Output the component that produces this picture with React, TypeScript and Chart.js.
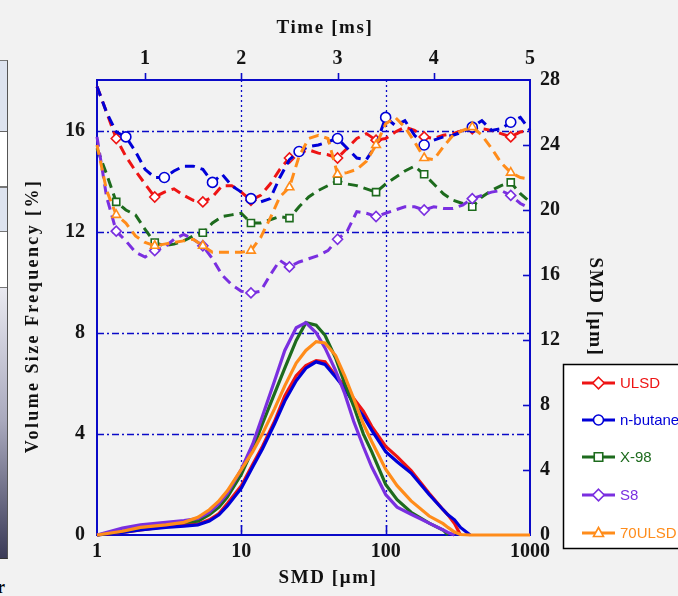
import React, { useEffect, useRef } from "react";
import { Chart, registerables } from "chart.js";

Chart.register(...registerables);

// ---------- data ----------
const sizeUm = [1, 1.5, 2, 3, 4, 5, 6, 7, 8, 10, 12, 14, 17, 20, 24, 28, 33, 38, 45, 52, 60, 70, 80, 100, 120, 150, 200, 250, 270, 300, 330, 385, 1000];

const ulsdVsf = [0, 0.1, 0.2, 0.33, 0.4, 0.43, 0.6, 0.85, 1.25, 1.95, 2.8, 3.5, 4.5, 5.5, 6.3, 6.7, 6.9, 6.85, 6.3, 5.9, 5.4, 4.9, 4.3, 3.5, 3.1, 2.55, 1.65, 1.0, 0.8, 0.45, 0, null, null];
const butaneVsf = [0, 0.1, 0.2, 0.3, 0.35, 0.4, 0.55, 0.8, 1.15, 1.85, 2.7, 3.4, 4.4, 5.3, 6.1, 6.6, 6.85, 6.75, 6.25, 5.8, 5.2, 4.7, 4.15, 3.3, 2.9, 2.45, 1.6, 1.0, 0.8, 0.6, 0.3, 0, null];
const x98Vsf = [0, 0.15, 0.3, 0.45, 0.5, 0.55, 0.8, 1.1, 1.5, 2.4, 3.4, 4.4, 5.6, 6.6, 7.7, 8.4, 8.3, 7.9, 7.0, 6.0, 5.1, 4.0, 3.3, 2.0, 1.4, 0.9, 0.47, 0.2, 0, null, null, null, null];
const s8Vsf = [0, 0.27, 0.4, 0.5, 0.57, 0.65, 0.9, 1.25, 1.65, 2.6, 3.6, 4.7, 6.1, 7.3, 8.2, 8.4, 8.0, 7.4, 6.5, 5.6, 4.5, 3.5, 2.7, 1.6, 1.1, 0.82, 0.47, 0.2, 0.1, 0, null, null, null];
const ulsd70Vsf = [0, 0.15, 0.3, 0.4, 0.5, 0.7, 1.0, 1.35, 1.75, 2.6, 3.3, 4.0, 5.0, 5.9, 6.8, 7.3, 7.65, 7.6, 7.1, 6.3, 5.4, 4.4, 3.7, 2.6, 1.95, 1.35, 0.75, 0.45, 0.3, 0.12, 0.02, 0, 0];

const timeMs = [0.5, 0.6, 0.7, 0.8, 0.9, 1.0, 1.1, 1.2, 1.3, 1.4, 1.5, 1.6, 1.7, 1.8, 1.9, 2.0, 2.1, 2.2, 2.3, 2.4, 2.5, 2.6, 2.7, 2.8, 2.9, 3.0, 3.1, 3.2, 3.3, 3.4, 3.5, 3.6, 3.7, 3.8, 3.9, 4.0, 4.1, 4.2, 4.3, 4.4, 4.5, 4.6, 4.7, 4.8, 4.9, 5.0];

const ulsdSmd = [27.6, 26.0, 24.4, 23.3, 22.4, 21.6, 20.8, 21.1, 21.3, 20.9, 20.6, 20.5, 20.8, 21.5, 21.5, 21.1, 20.6, 20.9, 21.6, 22.5, 23.2, 23.5, 23.7, 23.5, 23.4, 23.2, 23.8, 24.4, 24.7, 24.3, 24.4, 24.8, 25.1, 24.9, 24.5, 24.4, 24.6, 24.7, 24.9, 25.0, 25.0, 24.9, 24.7, 24.5, 24.8, 24.9];
const butaneSmd = [27.6, 26.0, 24.8, 24.5, 23.6, 22.5, 22.0, 22.0, 22.4, 22.7, 22.7, 22.5, 21.7, 22.2, 21.5, 21.1, 20.7, 20.5, 20.7, 22.0, 23.1, 23.6, 23.9, 24.0, 24.2, 24.4, 23.8, 23.2, 23.1, 24.0, 25.7, 25.2, 25.5, 24.6, 24.0, 24.3, 24.5, 24.6, 24.8, 25.1, 25.5, 24.9, 25.0, 25.4, 25.7, 24.9];
const x98Smd = [23.8, 22.2, 20.5, 20.0, 19.7, 18.8, 18.0, 17.8, 17.9, 18.1, 18.4, 18.6, 19.2, 19.6, 19.7, 19.8, 19.2, 19.2, 19.4, 19.6, 19.5, 20.2, 20.8, 21.2, 21.5, 21.8, 21.6, 21.5, 21.3, 21.1, 21.6, 22.0, 22.4, 22.7, 22.2, 21.6, 21.0, 20.6, 20.4, 20.2, 20.8, 21.2, 21.5, 21.7, 21.0, 20.5];
const s8Smd = [24.5, 20.8, 18.7, 18.1, 17.4, 17.1, 17.5, 17.7, 18.2, 18.5, 18.2, 17.8, 17.0, 16.0, 15.4, 15.0, 14.9, 15.0, 16.0, 16.9, 16.5, 16.8, 17.0, 17.2, 17.5, 18.2, 18.7, 19.9, 19.8, 19.6, 19.8, 20.0, 20.2, 20.2, 20.0, 20.2, 20.1, 20.1, 20.3, 20.7, 20.9, 21.1, 21.2, 20.9, 20.4, 20.1];
const ulsd70Smd = [24.0, 21.2, 19.7, 19.2, 18.4, 18.0, 17.8, 17.9, 18.0, 18.1, 18.2, 17.8, 17.4, 17.4, 17.4, 17.4, 17.5, 18.3, 19.5, 20.8, 21.4, 23.3, 24.4, 24.6, 24.4, 22.2, 22.3, 22.5, 23.0, 24.0, 25.3, 25.7, 25.1, 24.2, 23.2, 23.1, 23.9, 24.6, 24.9, 25.1, 24.6, 23.8, 22.9, 22.3, 22.0, 21.9];

const seriesNames = ["ULSD", "n-butane", "X-98", "S8", "70ULSD"];
const seriesColors = ["#ee1414", "#0000d8", "#1d6b1d", "#7a2fe0", "#ff8c1a"];
const markerStyles = ["rectRot", "circle", "rect", "rectRot", "triangle"];
const vsfSeries = [ulsdVsf, butaneVsf, x98Vsf, s8Vsf, ulsd70Vsf];
const smdSeries = [ulsdSmd, butaneSmd, x98Smd, s8Smd, ulsd70Smd];

const sizeTicks = [1, 10, 100, 1000];
const timeTicks = [1, 2, 3, 4, 5];
const vsfTicks = [0, 4, 8, 12, 16];
const smdTicks = [0, 4, 8, 12, 16, 20, 24, 28];
const markerIndexUlsd = [2, 6, 11, 16, 20, 25, 29, 34, 39, 43];
const markerIndexButane = [3, 7, 12, 16, 21, 25, 30, 34, 39, 43];
const markerIndexX98 = [2, 6, 11, 16, 20, 25, 29, 34, 39, 43];
const markerIndexS8 = [2, 6, 11, 16, 20, 25, 29, 34, 39, 43];
const markerIndex70 = [2, 6, 11, 16, 20, 25, 29, 34, 39, 43];
const markerIndexes = [markerIndexUlsd, markerIndexButane, markerIndexX98, markerIndexS8, markerIndex70];

// ---------- style ----------
const SERIF = "'Liberation Serif', 'Times New Roman', serif";
const tickFont = { family: SERIF, size: 20, weight: "bold" as const };
const AXIS_BLUE = "#0a0ac8";

function drawMarker(ctx: CanvasRenderingContext2D, style: string, x: number, y: number, r: number) {
  ctx.beginPath();
  if (style === "circle") {
    ctx.arc(x, y, r, 0, Math.PI * 2);
  } else if (style === "rect") {
    ctx.rect(x - r * 0.85, y - r * 0.85, r * 1.7, r * 1.7);
  } else if (style === "rectRot") {
    ctx.moveTo(x, y - r * 1.15);
    ctx.lineTo(x + r * 1.15, y);
    ctx.lineTo(x, y + r * 1.15);
    ctx.lineTo(x - r * 1.15, y);
    ctx.closePath();
  } else {
    ctx.moveTo(x, y - r * 1.1);
    ctx.lineTo(x + r, y + r * 0.7);
    ctx.lineTo(x - r, y + r * 0.7);
    ctx.closePath();
  }
  ctx.fill();
  ctx.stroke();
}

const decorPlugin = {
  id: "decor",
  beforeDatasetsDraw(chart: any) {
    const { ctx, chartArea: a, scales } = chart;
    ctx.save();
    ctx.strokeStyle = AXIS_BLUE;
    ctx.lineWidth = 1.3;
    ctx.setLineDash([7, 3, 2, 3]);
    for (const v of vsfTicks.slice(1)) {
      const y = Math.round(scales.y.getPixelForValue(v)) + 0.5;
      ctx.beginPath();
      ctx.moveTo(a.left, y);
      ctx.lineTo(a.right, y);
      ctx.stroke();
    }
    ctx.setLineDash([2, 3]);
    for (const v of [10, 100]) {
      const x = Math.round(scales.x.getPixelForValue(v)) + 0.5;
      ctx.beginPath();
      ctx.moveTo(x, a.top);
      ctx.lineTo(x, a.bottom);
      ctx.stroke();
    }
    ctx.setLineDash([]);
    ctx.lineWidth = 1.6;
    for (const v of timeTicks.slice(0, -1)) {
      const x = Math.round(scales.x2.getPixelForValue(v)) + 0.5;
      ctx.beginPath();
      ctx.moveTo(x, a.top);
      ctx.lineTo(x, a.top - 7);
      ctx.stroke();
    }
    for (const v of smdTicks.slice(1, -1)) {
      const y = Math.round(scales.y2.getPixelForValue(v)) + 0.5;
      ctx.beginPath();
      ctx.moveTo(a.right, y);
      ctx.lineTo(a.right - 7, y);
      ctx.stroke();
    }
    for (const v of [10, 100]) {
      const x = Math.round(scales.x.getPixelForValue(v)) + 0.5;
      ctx.beginPath();
      ctx.moveTo(x, a.bottom);
      ctx.lineTo(x, a.bottom - 10);
      ctx.stroke();
    }
    ctx.lineWidth = 2;
    ctx.strokeRect(a.left, a.top, a.right - a.left, a.bottom - a.top);
    ctx.restore();
  },
  afterDraw(chart: any) {
    const { ctx } = chart;
    ctx.save();
    ctx.fillStyle = "#111";
    ctx.textAlign = "center";
    ctx.textBaseline = "middle";
    // left title
    ctx.save();
    ctx.font = `bold 18px ${SERIF}`;
    (ctx as any).letterSpacing = "2.4px";
    ctx.translate(33, 316);
    ctx.rotate(-Math.PI / 2);
    ctx.fillText("Volume Size Frequency [%]", 0, 0);
    ctx.restore();
    ctx.font = `bold 19px ${SERIF}`;
    (ctx as any).letterSpacing = "1.6px";
    // bottom title
    ctx.fillText("SMD [μm]", 328, 578);
    // top title
    ctx.fillText("Time [ms]", 325, 28);
    // right title
    ctx.save();
    ctx.translate(595, 307);
    ctx.rotate(Math.PI / 2);
    ctx.fillText("SMD [μm]", 0, 0);
    ctx.restore();
    (ctx as any).letterSpacing = "0px";

    // legend
    ctx.fillStyle = "#ffffff";
    ctx.fillRect(563, 364, 130, 184);
    ctx.strokeStyle = "#000";
    ctx.lineWidth = 1.5;
    ctx.strokeRect(563.5, 364.5, 130, 184);
    const rows = [383, 420, 457, 495, 533];
    ctx.font = `15px 'Liberation Sans', Arial, sans-serif`;
    ctx.textAlign = "left";
    seriesNames.forEach((name, i) => {
      const y = rows[i];
      ctx.strokeStyle = seriesColors[i];
      ctx.lineWidth = 3;
      ctx.beginPath();
      ctx.moveTo(582, y);
      ctx.lineTo(615, y);
      ctx.stroke();
      ctx.fillStyle = "#fff";
      ctx.lineWidth = 1.6;
      drawMarker(ctx, markerStyles[i], 598.5, y, 5);
      ctx.fillStyle = seriesColors[i];
      ctx.fillText(name, 620, y + 1);
    });
    ctx.restore();
  },
};

export default function App() {
  const ref = useRef<HTMLCanvasElement | null>(null);

  useEffect(() => {
    if (!ref.current) return;
    const datasets: any[] = [];
    smdSeries.forEach((vals, i) => {
      const idx = markerIndexes[i];
      datasets.push({
        label: seriesNames[i] + " SMD",
        data: timeMs.map((t, k) => ({ x: t, y: vals[k] })),
        xAxisID: "x2",
        yAxisID: "y2",
        borderColor: seriesColors[i],
        borderWidth: 3,
        borderDash: [10, 6],
        pointStyle: markerStyles[i],
        pointRadius: (c: any) => (idx.includes(c.dataIndex) ? 5 : 0),
        pointBackgroundColor: "#ffffff",
        pointBorderColor: seriesColors[i],
        pointBorderWidth: 1.6,
        tension: 0,
        clip: false,
        order: 10 - i,
      });
    });
    vsfSeries.forEach((vals, i) => {
      datasets.push({
        label: seriesNames[i] + " VSF",
        data: sizeUm.map((s, k) => ({ x: s, y: vals[k] })),
        xAxisID: "x",
        yAxisID: "y",
        borderColor: seriesColors[i],
        borderWidth: 3.2,
        pointRadius: 0,
        tension: 0,
        spanGaps: false,
        clip: false,
        order: 5 - i,
      });
    });

    const tickColor = "#151515";
    const chart = new Chart(ref.current, {
      type: "line",
      data: { datasets },
      options: {
        responsive: false,
        animation: false,
        devicePixelRatio: 1,
        layout: { padding: 0 },
        plugins: { legend: { display: false }, tooltip: { enabled: false } },
        scales: {
          x: {
            type: "logarithmic",
            position: "bottom",
            min: 1,
            max: 1000,
            afterBuildTicks: (s: any) => {
              s.ticks = sizeTicks.map((v) => ({ value: v }));
            },
            afterFit: (s: any) => {
              s.height = 61;
            },
            grid: { display: false, drawTicks: false },
            border: { display: false },
            ticks: { font: tickFont, color: tickColor, padding: 5, autoSkip: false, maxRotation: 0, callback: (v: any) => String(v) },
          },
          x2: {
            type: "linear",
            position: "top",
            min: 0.5,
            max: 5,
            afterBuildTicks: (s: any) => {
              s.ticks = timeTicks.map((v) => ({ value: v }));
            },
            afterFit: (s: any) => {
              s.height = 80;
            },
            grid: { display: false, drawTicks: false },
            border: { display: false },
            ticks: { font: tickFont, color: tickColor, padding: 9, autoSkip: false, maxRotation: 0, callback: (v: any) => String(v) },
          },
          y: {
            type: "linear",
            position: "left",
            min: 0,
            max: 18,
            afterBuildTicks: (s: any) => {
              s.ticks = vsfTicks.map((v) => ({ value: v }));
            },
            afterFit: (s: any) => {
              s.width = 97;
            },
            grid: { display: false, drawTicks: false },
            border: { display: false },
            ticks: { font: tickFont, color: tickColor, padding: 12, autoSkip: false, callback: (v: any) => String(v) },
          },
          y2: {
            type: "linear",
            position: "right",
            min: 0,
            max: 28,
            afterBuildTicks: (s: any) => {
              s.ticks = smdTicks.map((v) => ({ value: v }));
            },
            afterFit: (s: any) => {
              s.width = 148;
            },
            grid: { display: false, drawTicks: false },
            border: { display: false },
            ticks: { font: tickFont, color: tickColor, padding: 10, autoSkip: false, callback: (v: any) => String(v) },
          },
        },
      } as any,
      plugins: [decorPlugin],
    });
    return () => chart.destroy();
  }, []);

  return (
    <div style={{ position: "absolute", left: 0, top: 0, width: 678, height: 596, background: "#f2f2f2", overflow: "hidden" }}>
      <div
        style={{
          position: "absolute",
          left: 0,
          top: 60,
          width: 7,
          height: 497,
          borderRight: "1px solid #555",
          borderTop: "1px solid #777",
          borderBottom: "1px solid #333",
          background:
            "linear-gradient(to bottom, #dde3ef 0px, #dde3ef 70px, #666 70px, #666 71px, #ffffff 71px, #ffffff 125px, #777 125px, #777 127px, #dde3ef 127px, #dde3ef 170px, #777 170px, #777 171px, #ffffff 171px, #ffffff 226px, #777 226px, #777 227px, #e9e9f0 227px, #a9a9bd 360px, #3b3b57 497px)",
        }}
      />
      <div style={{ position: "absolute", left: -3, top: 578, fontFamily: SERIF, fontWeight: "bold", fontSize: 18, color: "#000", lineHeight: "18px" }}>r</div>
      <canvas ref={ref} width={678} height={596} style={{ position: "absolute", left: 0, top: 0, width: 678, height: 596 }} />
    </div>
  );
}
